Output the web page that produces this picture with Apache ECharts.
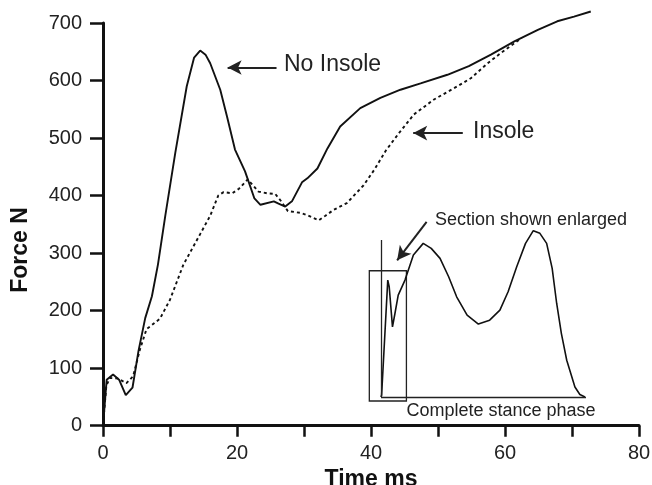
<!DOCTYPE html>
<html>
<head>
<meta charset="utf-8">
<script src="https://cdn.jsdelivr.net/npm/echarts@6/dist/echarts.min.js"></script>
<style>
html,body{margin:0;padding:0;background:#fff;}
#chart{width:652px;height:485px;}
</style>
</head>
<body>
<div id="chart"></div>
<script>
// ---- Data ----
var xTicks = [0, 20, 40, 60, 80];
var yTicks = [0, 100, 200, 300, 400, 500, 600, 700];

var noInsole = [
  [0,0],[0.55,80],[1.5,89],[2.4,80],[3.4,53],[4.4,66],[5.3,130],[6.3,187],[7.3,225],
  [8.2,280],[9.3,365],[10.8,475],[12.5,590],[13.6,640],[14.5,652],[15.3,645],[16,630],
  [17.5,584],[18.5,538],[19.7,480],[21.2,442],[22.6,395],[23.5,384],[25.5,390],[26.2,386],
  [27.2,381],[28.2,390],[29.7,423],[30.5,430],[32,447],[33.5,482],[35.4,520],[38.4,552],
  [41.4,570],[44.4,584],[47.4,595],[51.4,610],[54.6,625],[57.9,645],[61.4,668],[64.9,688],
  [67.8,703],[70.3,711],[72.8,720]
];
var insole = [
  [0,0],[0.5,70],[1.05,83],[2.2,82],[3.5,74],[4.5,86],[5.5,132],[6.5,168],[7.3,175],
  [8.5,186],[10,219],[12,280],[14.5,333],[16,365],[17.2,400],[18,406],[19.3,404],
  [20.3,412],[21.6,428],[23.2,407],[24.5,404],[25.7,403],[26.6,390],[27.6,373],[29.5,370],
  [30.5,366],[32.2,357],[33.2,365],[34.4,375],[36.4,387],[38.9,418],[40.5,445],[42.2,478],
  [44.2,509],[46.4,541],[49.4,567],[52.9,590],[54.9,604],[57.4,630],[59.4,648],[61.4,665],
  [62.5,674]
];
// inset: complete stance phase (relative units)
var stance = [
  [0,0],[0.3,1.2],[3.3,70],[4.0,66],[5.6,42],[6.8,50],[8.4,61],[11.7,70],[15.8,85],
  [20.6,92],[21.5,92.4],[24.5,89],[28.8,83],[33,72],[36.9,60],[42,49],[47.5,43.7],
  [53,46],[58,52],[62,63],[66.2,78],[70.5,92],[74.3,99.6],[77.5,98],[80.8,92],
  [83.5,77],[85.7,56],[88,38],[90.6,22],[94.6,6],[97,1.5],[99.5,0]
];
var enlargedBox = [[-5.7,-2.4],[12.4,75.6]];

var FONT = '"Liberation Sans", Arial, Helvetica, sans-serif';
var chart = echarts.init(document.getElementById('chart'), null, {renderer:'canvas'});

var option = {
  animation: false,
  backgroundColor: '#fff',
  grid: [
    {left: 103, right: 13, top: 23, bottom: 59.3, containLabel: false, outerBoundsMode: 'none'},
    {left: 360.5, top: 230, width: 225.5, height: 175.35, containLabel: false, outerBoundsMode: 'none'}
  ],
  xAxis: [
    {
      type: 'value', gridIndex: 0, min: 0, max: 80, interval: 10,
      name: 'Time ms', nameLocation: 'middle', nameGap: 35,
      nameTextStyle: {fontFamily: FONT, fontSize: 23, fontWeight: 'bold', color: '#111'},
      axisLine: {show: true, onZero: false, lineStyle: {color: '#111', width: 3}},
      axisTick: {show: true, inside: false, length: 11, lineStyle: {color: '#111', width: 2.5}},
      axisLabel: {
        margin: 18, fontFamily: FONT, fontSize: 20, color: '#222',
        formatter: function (v) { return xTicks.indexOf(v) >= 0 ? String(v) : ''; }
      },
      splitLine: {show: false}
    },
    {
      type: 'value', gridIndex: 1, min: -10, max: 100, show: false
    }
  ],
  yAxis: [
    {
      type: 'value', gridIndex: 0, min: 0, max: 700, interval: 100,
      axisLine: {show: true, onZero: false, lineStyle: {color: '#111', width: 3}},
      axisTick: {show: true, inside: false, length: 13, lineStyle: {color: '#111', width: 2.5}},
      axisLabel: {
        margin: 21, fontFamily: FONT, fontSize: 20, color: '#222',
        formatter: function (v) { return yTicks.indexOf(v) >= 0 ? String(v) : ''; }
      },
      splitLine: {show: false}
    },
    {
      type: 'value', gridIndex: 1, min: -5, max: 100, show: false
    }
  ],
  series: [
    {
      name: 'No Insole', type: 'line', xAxisIndex: 0, yAxisIndex: 0,
      data: noInsole, showSymbol: false, symbol: 'none', clip: false,
      lineStyle: {color: '#111', width: 1.9},
      markLine: {
        silent: true, symbol: ['none', 'arrow'], symbolSize: [11, 14],
        label: {show: false},
        lineStyle: {color: '#222', width: 2, type: 'solid'},
        data: [
          [{coord: [25.9, 622.7]}, {coord: [18.6, 622.7]}],
          [{coord: [53.7, 508.6]}, {coord: [46.3, 508.6]}],
          [{coord: [48.3, 354.2]}, {coord: [43.9, 287.5]}]
        ]
      }
    },
    {
      name: 'Insole', type: 'line', xAxisIndex: 0, yAxisIndex: 0,
      data: insole, showSymbol: false, symbol: 'none', clip: false,
      lineStyle: {color: '#111', width: 1.9, type: [3, 3]}
    },
    {
      name: 'Complete stance phase', type: 'line', xAxisIndex: 1, yAxisIndex: 1,
      data: stance, showSymbol: false, symbol: 'none', clip: false,
      lineStyle: {color: '#111', width: 1.6},
      markLine: {
        silent: true, symbol: ['none', 'none'], label: {show: false},
        lineStyle: {color: '#222', width: 1.3, type: 'solid'},
        data: [
          [{coord: [0, 0]}, {coord: [100, 0]}],
          [{coord: [0, 0]}, {coord: [0, 94]}]
        ]
      },
      markArea: {
        silent: true, label: {show: false},
        itemStyle: {color: 'rgba(0,0,0,0)', borderColor: '#222', borderWidth: 1.3},
        data: [[{coord: enlargedBox[0]}, {coord: enlargedBox[1]}]]
      }
    }
  ],
  graphic: [
    {type: 'text', x: 20.5, y: 250, rotation: Math.PI / 2,
     style: {text: 'Force N', fontFamily: FONT, fontSize: 23, fontWeight: 'bold', fill: '#111', align: 'center', verticalAlign: 'middle'}},
    {type: 'text', x: 284, y: 65,
     style: {text: 'No Insole', fontFamily: FONT, fontSize: 23, fill: '#222', align: 'left', verticalAlign: 'middle'}},
    {type: 'text', x: 473, y: 132,
     style: {text: 'Insole', fontFamily: FONT, fontSize: 23, fill: '#222', align: 'left', verticalAlign: 'middle'}},
    {type: 'text', x: 435, y: 220,
     style: {text: 'Section shown enlarged', fontFamily: FONT, fontSize: 18, fill: '#222', align: 'left', verticalAlign: 'middle'}},
    {type: 'text', x: 406.5, y: 411,
     style: {text: 'Complete stance phase', fontFamily: FONT, fontSize: 18, fill: '#222', align: 'left', verticalAlign: 'middle'}}
  ]
};
chart.setOption(option);
</script>
</body>
</html>
